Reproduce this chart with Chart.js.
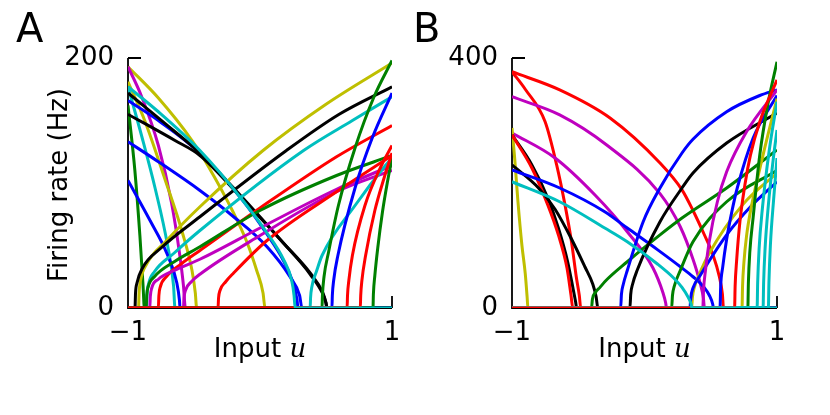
<!DOCTYPE html>
<html>
<head>
<meta charset="utf-8">
<script src="https://cdn.jsdelivr.net/npm/chart.js@4.4.1/dist/chart.umd.min.js"></script>
<style>
  body { margin: 0; background: #fff; }
  .panel { position: absolute; top: 0; width: 415px; height: 415px; }
</style>
</head>
<body>
<div class="panel" style="left:0"><canvas id="chartA"></canvas></div>
<div class="panel" style="left:415px"><canvas id="chartB"></canvas></div>
<script>
// ================== DATA ==================

// tick values
const ticksX = [-1, 1];
const ticksYA = [0, 200];
const ticksYB = [0, 400];

// panel A tuning curves, [input u, rate Hz], in drawing order (last on top)
const curvesA = [
  [[-1,193],[-0.77,168],[-0.515,134],[-0.39,113],[-0.2,76],[-0.1,53],[-0.025,30],[0.023,12],[0.038,0],[1,0]],
  [[-1,193],[-0.9,170],[-0.77,130],[-0.67,84],[-0.61,44],[-0.58,18],[-0.565,0],[1,0]],
  [[-1,181],[-0.87,149],[-0.72,103],[-0.59,61],[-0.515,30],[-0.49,12],[-0.48,0],[1,0]],
  [[-1,177],[-0.895,137],[-0.795,96],[-0.7,50],[-0.655,18],[-0.644,0],[1,0]],
  [[-1,162],[-0.948,110],[-0.91,58],[-0.886,18],[-0.876,0],[1,0]],
  [[-1,102],[-0.833,70],[-0.707,44],[-0.63,20],[-0.61,6],[-0.606,0],[1,0]],
  [[-1,166],[-0.77,150],[-0.455,124],[-0.13,86],[0.053,59],[0.177,38],[0.25,20],[0.28,7],[0.288,0],[1,0]],
  [[-1,133],[-0.77,117],[-0.455,94],[-0.2,73],[0.053,49],[0.227,25],[0.3,10],[0.318,0],[1,0]],
  [[-1,172],[-0.644,141],[-0.455,124],[-0.13,88],[0.177,52],[0.38,28],[0.477,12],[0.5,4],[0.506,0],[1,0]],
  [[-1,155],[-0.644,134],[-0.455,122],[-0.13,87],[0.177,52],[0.38,27],[0.477,11],[0.5,4],[0.508,0],[1,0]],
  [[-1,0],[-0.92,0],[-0.916,12],[-0.905,22],[-0.86,35],[-0.707,54],[-0.455,81],[0.023,126],[0.5,163],[1,196]],
  [[-1,0],[-0.947,0],[-0.943,12],[-0.932,20],[-0.89,32],[-0.75,48],[-0.455,73],[0.2,126],[0.6,155],[1,177]],
  [[-1,0],[-0.86,0],[-0.856,11],[-0.845,19],[-0.8,29],[-0.65,44],[-0.455,62],[0.33,126],[0.7,150],[1,169]],
  [[-1,0],[-0.77,0],[-0.766,10],[-0.755,17],[-0.71,25],[-0.6,35],[-0.455,46],[0,80],[0.58,121],[1,146]],
  [[-1,0],[-0.862,0],[-0.858,10],[-0.847,17],[-0.8,25],[-0.65,37],[-0.455,49],[0,78],[0.58,106],[1,122]],
  [[-1,0],[-0.835,0],[-0.831,9],[-0.82,16],[-0.77,23],[-0.65,30],[-0.455,39],[0,64],[0.58,95],[1,114]],
  [[-1,0],[-0.58,0],[-0.576,8],[-0.565,14],[-0.52,21],[-0.455,27],[0,58],[0.58,93],[1,110]],
  [[-1,0],[-0.318,0],[-0.314,8],[-0.303,14],[-0.26,21],[-0.2,28],[0.053,54],[0.58,93],[1,122]],
  [[-1,0],[0.38,0],[0.383,8],[0.393,17],[0.43,30],[0.47,42],[0.72,82],[0.95,114],[1,120]],
  [[-1,0],[0.47,0],[0.473,10],[0.485,25],[0.52,45],[0.594,82],[0.72,128],[0.86,168],[1,198]],
  [[-1,0],[0.545,0],[0.548,10],[0.558,22],[0.59,42],[0.72,96],[0.85,136],[1,172]],
  [[-1,0],[0.66,0],[0.663,10],[0.673,22],[0.7,42],[0.795,82],[0.92,114],[1,130]],
  [[-1,0],[0.856,0],[0.859,11],[0.87,26],[0.892,48],[0.928,77],[0.964,100],[1,120]],
  [[-1,0],[0.76,0],[0.763,10],[0.772,22],[0.8,42],[0.87,78],[0.94,104],[1,124]],
  [[-1,177],[-0.77,157],[-0.455,126],[-0.13,86],[0.053,60],[0.177,39],[0.24,22],[0.258,10],[0.266,0],[1,0]]
];
const coloursA = ['y','m','y','c','g','b','b','b','k','k',
                  'y','k','c','r','g','m','m','r','c','g','b','r','g','r','c'];

// panel B tuning curves
const curvesB = [
  [[-1,378],[-0.64,349],[-0.26,304],[0.117,232],[0.283,189],[0.366,156],[0.45,118],[0.517,85],[0.565,50],[0.588,22],[0.596,0],[1,0]],
  [[-1,378],[-0.9,350],[-0.75,298],[-0.663,229],[-0.6,165],[-0.551,106],[-0.515,50],[-0.492,20],[-0.481,0],[1,0]],
  [[-1,338],[-0.64,309],[-0.28,260],[0.117,183],[0.27,130],[0.366,78],[0.42,40],[0.445,15],[0.452,0],[1,0]],
  [[-1,280],[-0.675,240],[-0.37,180],[-0.13,122],[0.064,64],[0.14,24],[0.16,8],[0.166,0],[1,0]],
  [[-1,288],[-0.98,240],[-0.955,170],[-0.925,100],[-0.9,55],[-0.886,18],[-0.88,0],[1,0]],
  [[-1,277],[-0.85,229],[-0.73,176],[-0.65,128],[-0.58,74],[-0.54,32],[-0.52,10],[-0.512,0],[1,0]],
  [[-1,277],[-0.85,224],[-0.73,165],[-0.65,117],[-0.585,64],[-0.555,21],[-0.541,0],[1,0]],
  [[-1,229],[-0.8,192],[-0.675,158],[-0.55,110],[-0.45,66],[-0.39,38],[-0.365,18],[-0.352,0],[1,0]],
  [[-1,221],[-0.64,192],[-0.3,154],[-0.13,128],[0.1,93],[0.283,64],[0.366,50],[0.45,33],[0.49,20],[0.515,6],[0.52,0],[1,0]],
  [[-1,0],[-0.4,0],[-0.393,14],[-0.37,25],[-0.336,33],[-0.3,42],[-0.13,74],[0.117,117],[0.283,144],[0.62,192],[1,253]],
  [[-1,0],[-0.18,0],[-0.174,22],[-0.16,38],[-0.13,60],[-0.01,138],[0.117,192],[0.283,248],[0.366,270],[0.62,314],[0.87,340],[1,349]],
  [[-1,0],[-0.11,0],[-0.104,22],[-0.09,38],[-0.056,60],[0.117,138],[0.283,192],[0.366,216],[0.62,264],[1,312]],
  [[-1,0],[0.205,0],[0.211,20],[0.225,35],[0.27,60],[0.366,106],[0.62,170],[1,220]],
  [[-1,0],[0.356,0],[0.362,18],[0.375,32],[0.41,52],[0.49,88],[0.74,165],[1,216]],
  [[-1,0],[0.343,0],[0.349,16],[0.366,32],[0.42,52],[0.62,117],[0.8,162],[1,202]],
  [[-1,0],[0.44,0],[0.446,30],[0.46,60],[0.49,108],[0.55,170],[0.62,218],[0.77,282],[1,349]],
  [[-1,0],[0.57,0],[0.575,35],[0.59,65],[0.62,110],[0.66,155],[0.7,192],[0.82,272],[1,340]],
  [[-1,0],[0.736,0],[0.74,35],[0.75,72],[0.77,115],[0.8,155],[0.895,245],[1,335]],
  [[-1,0],[0.78,0],[0.784,40],[0.795,90],[0.82,145],[0.87,245],[0.93,325],[1,394]],
  [[-1,0],[0.85,0],[0.854,40],[0.865,95],[0.89,160],[0.94,250],[1,330]],
  [[-1,0],[0.895,0],[0.899,40],[0.91,95],[0.935,165],[0.97,235],[1,285]],
  [[-1,0],[0.935,0],[0.939,40],[0.95,100],[0.975,175],[1,240]],
  [[-1,0],[0.68,0],[0.684,35],[0.695,75],[0.72,138],[0.76,200],[0.8,245],[0.87,298],[1,365]],
  [[-1,202],[-0.64,170],[-0.3,128],[-0.13,106],[0.1,70],[0.22,48],[0.283,33],[0.33,17],[0.352,6],[0.358,0],[1,0]]
];
const coloursB = ['r','r','m','m','y','k','r','k','b',
                  'g','b','k','g','y','b','m','b','y','g','c','c','c','r','c'];

// matplotlib classic single-letter colours
const colourMap = { b: '#0000ff', g: '#008000', r: '#ff0000', c: '#00bfbf', m: '#bf00bf', y: '#bfbf00', k: '#000000' };

// ================== PLUGIN: spines, inward ticks, titles ==================
const axesText = {
  id: 'axesText',
  beforeDatasetsDraw(chart, args, opts) {
    const { ctx, chartArea: a, scales } = chart;
    ctx.save();
    ctx.strokeStyle = '#000';
    ctx.lineWidth = 1.8;
    ctx.beginPath();
    ctx.moveTo(a.left, a.top);
    ctx.lineTo(a.left, a.bottom);
    ctx.lineTo(a.right, a.bottom);
    scales.y.ticks.forEach(t => {
      const py = scales.y.getPixelForValue(t.value);
      ctx.moveTo(a.left, py);
      ctx.lineTo(a.left + 13, py);
    });
    scales.x.ticks.forEach(t => {
      const px = scales.x.getPixelForValue(t.value);
      ctx.moveTo(px, a.bottom);
      ctx.lineTo(px, a.bottom - 12);
    });
    ctx.stroke();
    ctx.restore();
  },
  afterDraw(chart, args, opts) {
    const { ctx, chartArea: a } = chart;
    ctx.save();
    ctx.fillStyle = '#000';
    ctx.textBaseline = 'alphabetic';
    ctx.textAlign = 'left';
    // panel letter
    ctx.font = '40px "DejaVu Sans"';
    ctx.fillText(opts.letter, opts.letterX, 42);
    // x title with italic u
    ctx.font = '26px "DejaVu Sans"';
    const w1 = ctx.measureText('Input ').width;
    ctx.font = 'italic 26px "DejaVu Serif"';
    const w2 = ctx.measureText('u').width;
    const x0 = (a.left + a.right) / 2 - (w1 + w2) / 2;
    ctx.font = '26px "DejaVu Sans"';
    ctx.fillText('Input ', x0, 357);
    ctx.font = 'italic 26px "DejaVu Serif"';
    ctx.fillText('u', x0 + w1, 357);
    // y title
    if (opts.yTitle) {
      ctx.translate(67, (a.top + a.bottom) / 2 + 2);
      ctx.rotate(-Math.PI / 2);
      ctx.textAlign = 'center';
      ctx.font = '26px "DejaVu Sans"';
      ctx.fillText(opts.yTitle, 0, 0);
    }
    ctx.restore();
  }
};

// ================== CHARTS ==================
function tickLabel(v) {
  return v < 0 ? '\u2212' + Math.abs(v) : String(v);
}

function buildPanel(id, curves, colours, ticksY, yMax, yAxisWidth, rightPad, letter, letterX, yTitle) {
  const datasets = curves.map((pts, i) => ({
    data: pts.map(p => ({ x: p[0], y: p[1] })),
    showLine: true,
    borderColor: colourMap[colours[i]],
    borderWidth: 3,
    pointRadius: 0,
    cubicInterpolationMode: 'monotone',
    fill: false
  }));
  // Chart.js paints dataset 0 on top, so reverse to keep the list order
  datasets.reverse();
  const tickFont = { family: 'DejaVu Sans', size: 26 };
  return new Chart(document.getElementById(id), {
    type: 'scatter',
    data: { datasets: datasets },
    options: {
      responsive: true,
      maintainAspectRatio: false,
      animation: false,
      events: [],
      layout: { padding: { top: 58, right: rightPad, left: 0, bottom: 0 } },
      plugins: {
        legend: { display: false },
        tooltip: { enabled: false },
        axesText: { letter: letter, letterX: letterX, yTitle: yTitle }
      },
      scales: {
        x: {
          type: 'linear', min: -1, max: 1,
          afterBuildTicks: s => { s.ticks = ticksX.map(v => ({ value: v })); },
          afterFit: s => { s.height = 107; },
          grid: { display: false, drawTicks: false },
          border: { display: false },
          ticks: { font: tickFont, color: '#000', padding: 10, maxRotation: 0, autoSkip: false, callback: tickLabel }
        },
        y: {
          type: 'linear', min: 0, max: yMax,
          afterBuildTicks: s => { s.ticks = ticksY.map(v => ({ value: v })); },
          afterFit: s => { s.width = yAxisWidth; },
          grid: { display: false, drawTicks: false },
          border: { display: false },
          ticks: { font: tickFont, color: '#000', padding: 14, autoSkip: false, callback: tickLabel }
        }
      }
    },
    plugins: [axesText]
  });
}

buildPanel('chartA', curvesA, coloursA, ticksYA, 200, 128, 23, 'A', 16, 'Firing rate (Hz)');
buildPanel('chartB', curvesB, coloursB, ticksYB, 400, 97, 53, 'B', -2, '');
</script>
</body>
</html>
